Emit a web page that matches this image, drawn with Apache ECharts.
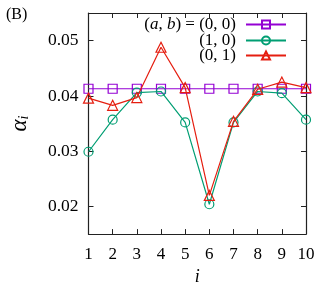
<!DOCTYPE html>
<html><head><meta charset="utf-8">
<script src="https://cdn.jsdelivr.net/npm/echarts@6/dist/echarts.min.js"></script>
<style>html,body{margin:0;padding:0;background:#fff}#c{width:327px;height:291px}</style>
</head><body><div id="c"></div>
<script>
var xValues = [1,2,3,4,5,6,7,8,9,10];
var series00 = [0.0413,0.0413,0.0413,0.0413,0.0413,0.0413,0.0413,0.0413,0.0413,0.0413];
var series10 = [0.0299,0.0357,0.0406,0.0408,0.0352,0.0204,0.0352,0.0408,0.0405,0.0357];
var series01 = [0.0396,0.0383,0.0397,0.0488,0.0415,0.0220,0.0354,0.0412,0.0425,0.0415];
var seriesNames = ['(a, b) = (0, 0)', '(1, 0)', '(0, 1)'];
var yTicks = [0.02, 0.03, 0.04, 0.05];
var xTicks = [1,2,3,4,5,6,7,8,9,10];
var colors = ['#9400d3', '#009e73', '#e51e10'];
var symbols = ['rect', 'circle', 'triangle'];
var seriesData = [series00, series10, series01];

var FONT = 'Liberation Serif';
function pairs(arr){ return arr.map(function(v,i){ return [xValues[i], v]; }); }

var chart = echarts.init(document.getElementById('c'));
var axisCommon = {
  axisLine: {show: true, lineStyle: {color: '#222', width: 1.2}},
  axisTick: {show: true, inside: true, length: 5, lineStyle: {color: '#222', width: 1}},
  splitLine: {show: false}
};
function xAxis(pos, showLabel){
  return Object.assign({}, axisCommon, {
    type: 'value', position: pos, min: 1, max: 10, interval: 1,
    axisTick: Object.assign({}, axisCommon.axisTick, {customValues: xTicks}),
    axisLabel: {show: showLabel, customValues: xTicks, fontFamily: FONT, fontSize: 17, color: '#000', margin: 12},
    name: showLabel ? 'i' : '', nameLocation: 'middle', nameGap: 33,
    nameTextStyle: {fontFamily: FONT, fontSize: 18, fontStyle: 'italic', color: '#000'}
  });
}
function yAxis(pos, showLabel){
  return Object.assign({}, axisCommon, {
    type: 'value', position: pos, min: 0.015, max: 0.055,
    axisTick: Object.assign({}, axisCommon.axisTick, {customValues: yTicks}),
    axisLabel: {show: showLabel, customValues: yTicks, fontFamily: FONT, fontSize: 17.5, color: '#000', margin: 10,
      formatter: function(v){ return v.toFixed(2); }},
    name: showLabel ? '{a|α}{s|i}' : '', nameLocation: 'middle', nameGap: 57,
    nameTextStyle: {fontFamily: FONT, color: '#000',
      rich: {a: {fontFamily: FONT, fontSize: 23, fontStyle: 'italic', color: '#000'},
             s: {fontFamily: FONT, fontSize: 14, fontStyle: 'italic', color: '#000', verticalAlign: 'bottom', padding: [10,0,0,0]}}}
  });
}
var legendTops = [16, 32, 47];
var legends = seriesNames.map(function(n, k){
  return {
    data: [n], right: 40, top: legendTops[k], orient: 'vertical', align: 'right',
    padding: 0, itemWidth: 40, itemHeight: 10, selectedMode: false,
    textStyle: {fontFamily: FONT, fontSize: 17, color: '#000', padding: [0,5,0,0],
      rich: {it: {fontFamily: FONT, fontSize: 17, fontStyle: 'italic', color: '#000'}}},
    formatter: function(name){
      if (name === seriesNames[0]) return '({it|a}, {it|b}) = (0, 0)';
      return name;
    }
  };
});

chart.setOption({
  animation: false,
  backgroundColor: '#fff',
  grid: {left: 83, right: 21, top: 13, bottom: 56, containLabel: false},
  xAxis: [xAxis('bottom', true), xAxis('top', false)],
  yAxis: [yAxis('left', true), yAxis('right', false)],
  legend: legends,
  graphic: [{type: 'text', left: 6, top: 7, style: {text: '(B)', fontFamily: FONT, fontSize: 16, fill: '#000'}}],
  series: seriesData.map(function(d, k){
    return {
      name: seriesNames[k], type: 'line', data: pairs(d),
      symbol: symbols[k], symbolSize: k === 2 ? 10 : 9,
      lineStyle: {color: colors[k], width: 1.2},
      itemStyle: {color: 'rgba(255,255,255,0)', borderColor: colors[k], borderWidth: 1.2},
      z: 2 + k
    };
  })
});
</script></body></html>
